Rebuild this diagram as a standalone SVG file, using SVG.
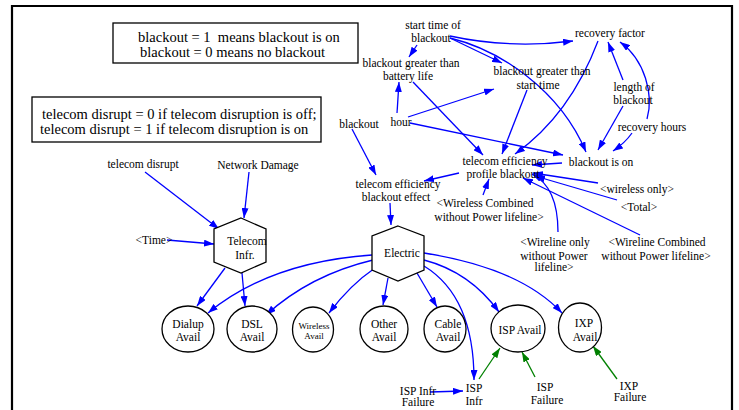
<svg xmlns="http://www.w3.org/2000/svg" width="739" height="410" viewBox="0 0 739 410">
<style>
text{font-family:"Liberation Serif","Times New Roman",serif;fill:#000}
.n{font-size:11.5px;text-anchor:middle}
.b{font-size:14.5px;white-space:pre}
.s{font-size:9px;text-anchor:middle}
.shape{fill:#fff;stroke:#000;stroke-width:1.3}
.box{fill:#fff;stroke:#000;stroke-width:1.3}
.bl{fill:none;stroke:#0000ff;stroke-width:1.3;marker-end:url(#ab)}
.gr{fill:none;stroke:#008000;stroke-width:1.3;marker-end:url(#ag)}
</style>
<defs>
<marker id="ab" markerUnits="userSpaceOnUse" markerWidth="10" markerHeight="7" refX="10" refY="3.5" orient="auto"><path d="M0,0 L10,3.5 L0,7 z" fill="#0000ff"/></marker>
<marker id="ag" markerUnits="userSpaceOnUse" markerWidth="10" markerHeight="7" refX="10" refY="3.5" orient="auto"><path d="M0,0 L10,3.5 L0,7 z" fill="#008000"/></marker>
</defs>
<rect width="739" height="410" fill="#fff"/>
<path d="M12,411 V6 H732 V411" fill="none" stroke="#000" stroke-width="2.2"/>

<g id="note1"><rect class="box" x="113" y="23" width="245" height="40"/>
<text class="b" x="138" y="42" xml:space="preserve">blackout = 1  means blackout is on</text>
<text class="b" x="140" y="56.5">blackout = 0 means no blackout</text></g>
<g id="note2"><rect class="box" x="32" y="97" width="289" height="45"/>
<text class="b" x="42" y="119">telecom disrupt = 0 if telecom disruption is off;</text>
<text class="b" x="40" y="133.5">telecom disrupt = 1 if telecom disruption is on</text></g>

<g id="connectors">
<path class="bl" d="M417,45 L409,57"/>
<path class="bl" d="M450,36 Q510,49 573,41"/>
<path class="bl" d="M450,38 L502,63"/>
<path class="bl" d="M450,38 C500,50 560,90 586,152"/>
<path class="bl" d="M397,113 L399,82"/>
<path class="bl" d="M408,117 L494,89"/>
<path class="bl" d="M410,123 L563,155"/>
<path class="bl" d="M413,82 L483,155"/>
<path class="bl" d="M527,90 L502,154"/>
<path class="bl" d="M598,41 Q570,115 515,154"/>
<path class="bl" d="M623,80 L608,42"/>
<path class="bl" d="M647,119 C654,95 645,60 620,42"/>
<path class="bl" d="M623,106 L598,150"/>
<path class="bl" d="M632,133 Q625,143 613,151"/>
<path class="bl" d="M562,163 L532,165"/>
<path class="bl" d="M352,129 L376,175"/>
<path class="bl" d="M459,173 L424,181"/>
<path class="bl" d="M483,195 L489,179"/>
<path class="bl" d="M598,183 L533,173"/>
<path class="bl" d="M617,200 L535,176"/>
<path class="bl" d="M558,232 C558,200 548,182 532,174"/>
<path class="bl" d="M640,235 L523,178"/>
<path class="bl" d="M390,203 L391,225"/>
<path class="bl" d="M145,172 L219,229"/>
<path class="bl" d="M249,172 L244,218"/>
<path class="bl" d="M167,240 L214,244"/>
<path class="bl" d="M225,268 L197,306"/>
<path class="bl" d="M242,273 L245,306"/>
<path class="bl" d="M372,255 Q270,262 208,313"/>
<path class="bl" d="M373,260 Q310,275 266,315"/>
<path class="bl" d="M375,268 Q350,285 329,313"/>
<path class="bl" d="M388,278 L383,305"/>
<path class="bl" d="M417,273 L437,307"/>
<path class="bl" d="M424,266 C455,285 474,320 474,380"/>
<path class="bl" d="M424,260 Q470,272 499,312"/>
<path class="bl" d="M424,253 Q520,268 562,313"/>
<path class="bl" d="M430,392 L463,391"/>
<path class="gr" d="M479,379 L500,348"/>
<path class="gr" d="M535,377 L522,352"/>
<path class="gr" d="M617,379 L593,346"/>
</g>

<g id="start_time"><text class="n" x="433" y="29">start time of</text><text class="n" x="431" y="42">blackout</text></g>
<g id="bgt_battery"><text class="n" x="411" y="67">blackout greater than</text><text class="n" x="408" y="80">battery life</text></g>
<g id="bgt_start"><text class="n" x="542" y="75">blackout greater than</text><text class="n" x="538" y="89">start time</text></g>
<g id="recovery_factor"><text class="n" x="610" y="37">recovery factor</text></g>
<g id="length"><text class="n" x="634" y="91">length of</text><text class="n" x="633" y="104">blackout</text></g>
<g id="recovery_hours"><text class="n" x="652" y="131">recovery hours</text></g>
<g id="blackout"><text class="n" x="359" y="128">blackout</text></g>
<g id="hour"><text class="n" x="401" y="126">hour</text></g>
<g id="profile"><text class="n" x="505" y="165">telecom efficiency</text><text class="n" x="503" y="178">profile blackout</text></g>
<g id="blackout_on"><text class="n" x="601" y="166">blackout is on</text></g>
<g id="effect"><text class="n" x="398" y="188">telecom efficiency</text><text class="n" x="396" y="201">blackout effect</text></g>
<g id="wireless_only"><text class="n" x="637" y="193">&lt;wireless only&gt;</text></g>
<g id="total"><text class="n" x="639" y="211">&lt;Total&gt;</text></g>
<g id="wireless_comb"><text class="n" x="485" y="207">&lt;Wireless Combined</text><text class="n" x="489" y="221">without Power lifeline&gt;</text></g>
<g id="wireline_only"><text class="n" x="555" y="246">&lt;Wireline only</text><text class="n" x="554" y="259.5">without Power</text><text class="n" x="554" y="271">lifeline&gt;</text></g>
<g id="wireline_comb"><text class="n" x="657" y="246">&lt;Wireline Combined</text><text class="n" x="656" y="260">without Power lifeline&gt;</text></g>
<g id="telecom_disrupt"><text class="n" x="143" y="168">telecom disrupt</text></g>
<g id="network_damage"><text class="n" x="258" y="169">Network Damage</text></g>
<g id="time"><text class="n" x="154" y="244">&lt;Time&gt;</text></g>

<g id="telecom_infr"><polygon class="shape" points="241,218 266,229 266,262 241,273 214,262 214,229"/>
<text class="n" x="247" y="245">Telecom</text><text class="n" x="245" y="259">Infr.</text></g>
<g id="electric"><polygon class="shape" points="398,226 424,236 424,270 398,281 372,270 372,236"/>
<text class="n" x="402" y="257">Electric</text></g>

<g id="dialup"><ellipse class="shape" cx="188" cy="329" rx="26" ry="23"/><text class="n" x="188" y="328">Dialup</text><text class="n" x="188" y="341">Avail</text></g>
<g id="dsl"><ellipse class="shape" cx="252" cy="329" rx="25" ry="23"/><text class="n" x="252" y="328">DSL</text><text class="n" x="252" y="341">Avail</text></g>
<g id="wireless"><ellipse class="shape" cx="313" cy="329.5" rx="20.5" ry="22.5"/><text class="s" x="314" y="329">Wireless</text><text class="s" x="314" y="339">Avail</text></g>
<g id="other"><ellipse class="shape" cx="384" cy="329" rx="24" ry="23"/><text class="n" x="384" y="328">Other</text><text class="n" x="384" y="341">Avail</text></g>
<g id="cable"><ellipse class="shape" cx="445" cy="329" rx="21" ry="23"/><text class="n" x="448" y="328">Cable</text><text class="n" x="448" y="341">Avail</text></g>
<g id="isp_avail"><ellipse class="shape" cx="518" cy="328.5" rx="27" ry="23.5"/><text class="n" x="520" y="334">ISP Avail</text></g>
<g id="ixp_avail"><ellipse class="shape" cx="580" cy="327.5" rx="21.5" ry="24.5"/><text class="n" x="584" y="327">IXP</text><text class="n" x="585" y="341">Avail</text></g>

<g id="isp_infr_failure"><text class="n" x="418" y="395">ISP Infr</text><text class="n" x="418" y="406">Failure</text></g>
<g id="isp_infr"><text class="n" x="474" y="392">ISP</text><text class="n" x="474" y="405">Infr</text></g>
<g id="isp_failure"><text class="n" x="545" y="391">ISP</text><text class="n" x="547" y="404">Failure</text></g>
<g id="ixp_failure"><text class="n" x="629" y="390">IXP</text><text class="n" x="630" y="401">Failure</text></g>
</svg>
